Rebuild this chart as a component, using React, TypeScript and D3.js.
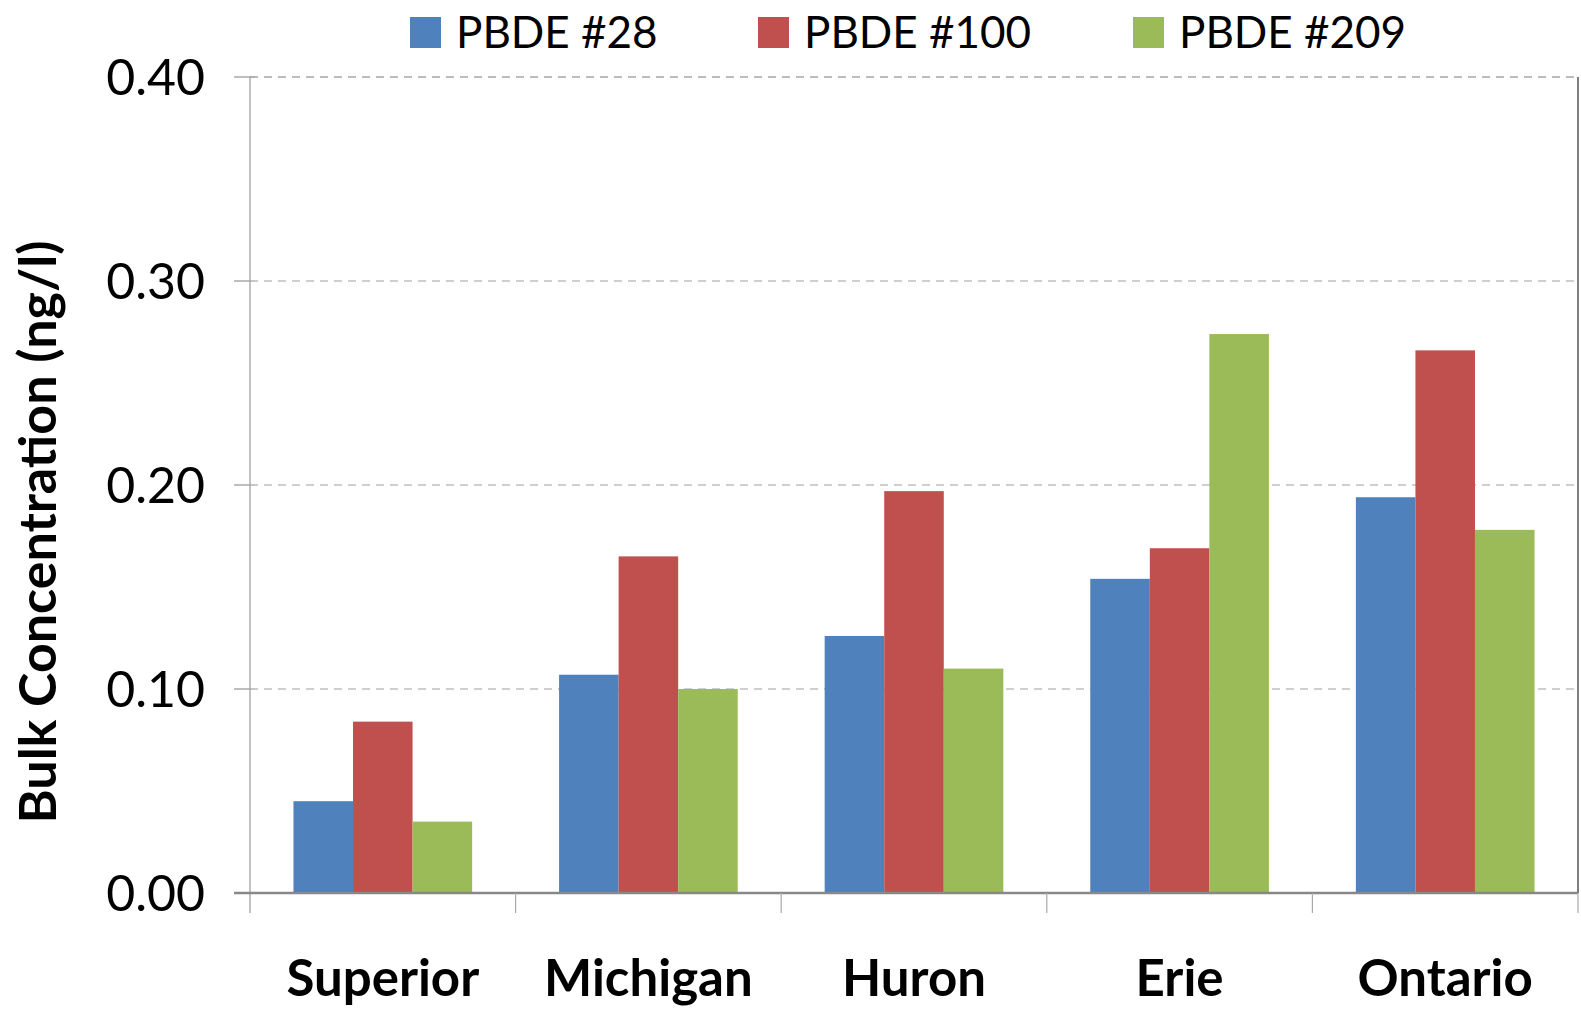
import React from "react";
import * as d3 from "d3";

const categories = ["Superior", "Michigan", "Huron", "Erie", "Ontario"];
const seriesNames = ["PBDE #28", "PBDE #100", "PBDE #209"];
const pbde28 = [0.045, 0.107, 0.126, 0.154, 0.194];
const pbde100 = [0.084, 0.165, 0.197, 0.169, 0.266];
const pbde209 = [0.035, 0.1, 0.11, 0.274, 0.178];
const yTicks = [0, 0.1, 0.2, 0.3, 0.4];
const colors = ["#4F81BD", "#C0504D", "#9BBB59"];

const W = 1581;
const H = 1010;
const L = 250;
const R = 1578;
const T = 77;
const B = 893;

export default function App() {
  const series = [pbde28, pbde100, pbde209];
  const x = d3.scaleBand<string>().domain(categories).range([L, R]).paddingInner(0).paddingOuter(0);
  const inner = d3
    .scaleBand<number>()
    .domain([0, 1, 2])
    .range([0, x.bandwidth()])
    .paddingInner(0)
    .paddingOuter(0.73);
  const y = d3.scaleLinear().domain([0, 0.4]).range([B, T]);
  const font = "Lato, 'Open Sans', sans-serif";
  const legendX = [410, 758, 1133];

  return (
    <svg
      width={W}
      height={H}
      style={{ position: "absolute", left: 0, top: 0, background: "#fff" }}
      fontFamily={font}
    >
      <rect x={0} y={0} width={W} height={H} fill="#fff" />
      {/* gridlines */}
      {yTicks
        .filter((t) => t > 0)
        .map((t) => (
          <line
            key={"g" + t}
            x1={L}
            x2={R}
            y1={y(t)}
            y2={y(t)}
            stroke={t === 0.4 ? "#7a7a7a" : "#a0a0a0"}
            strokeWidth={1.2}
            strokeDasharray="8,6"
          />
        ))}
      {/* right border */}
      <line x1={R} x2={R} y1={T} y2={B} stroke="#555" strokeWidth={1.5} />
      {/* bars */}
      {categories.map((c, ci) =>
        series.map((s, si) => (
          <rect
            key={c + si}
            x={(x(c) as number) + (inner(si) as number)}
            y={y(s[ci])}
            width={inner.bandwidth()}
            height={B - y(s[ci])}
            fill={colors[si]}
          />
        ))
      )}
      {/* y axis */}
      <line x1={L} x2={L} y1={T} y2={B + 20} stroke="#999" strokeWidth={1.2} />
      {yTicks.map((t) => (
        <line key={"yt" + t} x1={L - 16} x2={L} y1={y(t)} y2={y(t)} stroke="#aaa" strokeWidth={1.5} />
      ))}
      {yTicks.map((t) => (
        <text
          key={"yl" + t}
          x={205}
          y={y(t)}
          dy="0.36em"
          textAnchor="end"
          fontSize={50}
          fill="#000"
        >
          {t.toFixed(2)}
        </text>
      ))}
      {/* x axis */}
      <line x1={L - 16} x2={R} y1={B} y2={B} stroke="#888" strokeWidth={2.5} />
      {categories.map((c) => (
        <line
          key={"xt" + c}
          x1={(x(c) as number) + x.bandwidth()}
          x2={(x(c) as number) + x.bandwidth()}
          y1={B}
          y2={B + 20}
          stroke="#aaa"
          strokeWidth={1.2}
        />
      ))}
      {categories.map((c) => (
        <text
          key={"xl" + c}
          x={(x(c) as number) + x.bandwidth() / 2}
          y={996}
          textAnchor="middle"
          fontSize={51}
          fontWeight="bold"
          fill="#000"
        >
          {c}
        </text>
      ))}
      {/* y title */}
      <text
        transform={`translate(56, 532) rotate(-90)`}
        textAnchor="middle"
        fontSize={52}
        fontWeight="bold"
        fill="#000"
      >
        Bulk Concentration (ng/l)
      </text>
      {/* legend */}
      {seriesNames.map((n, i) => (
        <g key={n}>
          <rect x={legendX[i]} y={17} width={31} height={31} fill={colors[i]} />
          <text x={legendX[i] + 46} y={48} fontSize={44} fill="#000">
            {n}
          </text>
        </g>
      ))}
    </svg>
  );
}
